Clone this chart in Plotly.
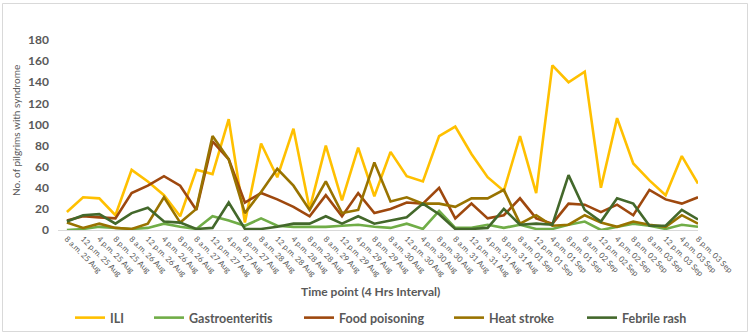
import plotly.graph_objects as go

# ---- data ----
slots = ["8 a.m.", "12 p.m.", "4 p.m.", "8 p.m."]
days = ["25 Aug", "26 Aug", "27 Aug", "28 Aug", "29 Aug", "30 Aug", "31 Aug",
        "01 Sep", "02 Sep", "03 Sep"]
categories = [f"{s} {d}" for d in days for s in slots]

ili = [17, 31, 30, 14, 57, 46, 33, 13, 57, 53, 105, 7, 82, 50, 96, 20, 80, 28, 78, 32,
       74, 51, 46, 89, 98, 72, 50, 37, 89, 35, 156, 140, 150, 40, 106, 63, 47, 33, 70, 44]
gastro = [0, 1, 3, 2, 1, 2, 6, 3, 1, 13, 9, 4, 11, 4, 3, 3, 3, 4, 5, 3,
          2, 6, 1, 18, 2, 2, 5, 2, 5, 1, 1, 5, 8, 0, 3, 6, 4, 1, 5, 3]
food = [9, 13, 12, 11, 35, 42, 51, 42, 19, 84, 67, 26, 35, 29, 22, 13, 33, 13, 35, 16,
        20, 26, 25, 40, 11, 25, 11, 14, 30, 11, 6, 25, 24, 17, 24, 14, 38, 29, 25, 31]
heat = [7, 2, 6, 2, 1, 6, 31, 7, 20, 89, 67, 16, 36, 58, 42, 19, 46, 16, 19, 64,
        27, 31, 25, 25, 22, 30, 30, 38, 6, 14, 4, 5, 14, 7, 3, 8, 5, 3, 14, 6]
febrile = [8, 14, 15, 6, 16, 21, 8, 7, 1, 2, 26, 1, 1, 3, 6, 6, 13, 6, 13, 6,
           9, 12, 25, 15, 1, 1, 2, 20, 5, 6, 5, 52, 19, 8, 30, 25, 4, 4, 19, 10]

series_names = ["ILI", "Gastroenteritis", "Food poisoning", "Heat stroke", "Febrile rash"]
series_values = [ili, gastro, food, heat, febrile]
series_colors = ["#FFC000", "#70AD47", "#9E480E", "#997300", "#43682B"]

y_ticks = [0, 20, 40, 60, 80, 100, 120, 140, 160, 180]

# ---- figure ----
W, H = 750, 336
ML, MR, MT, MB = 58, 52, 40, 106
FONT = "Lato"
GREY = "#595959"
legend_starts = [75, 154, 304, 454, 587]   # pixel x of each legend entry

fig = go.Figure()
legend_ids = ["legend", "legend2", "legend3", "legend4", "legend5"]
for name, vals, col, lid in zip(series_names, series_values, series_colors, legend_ids):
    fig.add_trace(go.Scatter(x=list(range(len(categories))), y=vals, name=name,
                             mode="lines", line=dict(color=col, width=2.6),
                             legend=lid))

pw, ph = W - ML - MR, H - MT - MB
def px_x(p):
    return (p - ML) / pw
def px_y(p):
    return (H - MB - p) / ph

legend_layouts = {}
for lid, start in zip(legend_ids, legend_starts):
    legend_layouts[lid] = dict(
        orientation="h", x=(start - 5) / W, xanchor="left", xref="container",
        y=1 - 318 / H, yanchor="middle", yref="container",
        font=dict(family=FONT, size=12.5, color=GREY, weight="bold"),
        itemwidth=30, bgcolor="rgba(0,0,0,0)")

fig.update_layout(
    width=W, height=H,
    margin=dict(l=ML, r=MR, t=MT, b=MB),
    paper_bgcolor="white", plot_bgcolor="white",
    showlegend=True,
    xaxis=dict(tickmode="array", tickvals=list(range(len(categories))),
               ticktext=categories, tickangle=45,
               tickfont=dict(family=FONT, size=8, color=GREY),
               range=[-0.55, 39], showgrid=False, zeroline=False,
               showline=True, linecolor="#D9D9D9", linewidth=1, ticks=""),
    yaxis=dict(range=[0, 180], tickvals=y_ticks, showgrid=False, zeroline=False,
               showline=False, ticks="", ticklabelstandoff=8,
               tickfont=dict(family=FONT, size=12, color=GREY, weight="bold")),
    annotations=[
        dict(text="Time point (4 Hrs Interval)", x=px_x(370), y=px_y(291),
             xref="paper", yref="paper", showarrow=False,
             xanchor="center", yanchor="middle",
             font=dict(family=FONT, size=12, color=GREY, weight="bold")),
        dict(text="No. of pilgrims with syndrome", textangle=-90,
             x=px_x(16), y=px_y(131), xref="paper", yref="paper", showarrow=False,
             xanchor="center", yanchor="middle",
             font=dict(family=FONT, size=10, color=GREY)),
    ],
    shapes=[dict(type="rect", xref="paper", yref="paper",
                 x0=px_x(2.5), x1=px_x(747.5), y0=px_y(331.5), y1=px_y(3.5),
                 line=dict(color="#D9D9D9", width=1), fillcolor="rgba(0,0,0,0)",
                 layer="below")],
    **legend_layouts,
)

fig.write_html("out.html")
